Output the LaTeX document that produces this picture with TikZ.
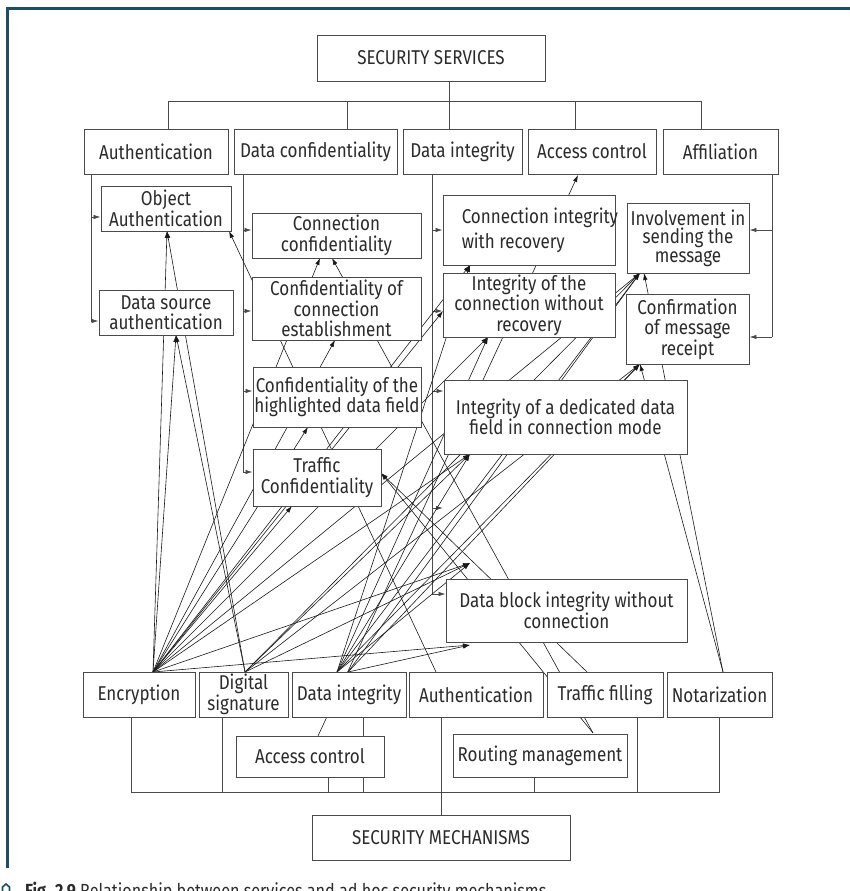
\documentclass[tikz,border=0pt]{standalone}
\usepackage{fontspec}
\setmainfont{Fira Sans}[FakeStretch=0.85]
\usetikzlibrary{arrows.meta}
\pgfdeclarelayer{background}
\pgfsetlayers{background,main}
\definecolor{framecol}{HTML}{1E4D6B}
\definecolor{inkcol}{HTML}{2B2B2B}
\definecolor{boxcol}{HTML}{4A4A4A}
\tikzset{
  box/.style={draw=boxcol, line width=0.9pt, fill=white, text=inkcol, inner sep=0pt,
    align=center, font=\fontsize{20}{20.5}\selectfont},
  txt/.style={text=inkcol, inner sep=0pt, font=\fontsize{20}{20.5}\selectfont},
  link/.style={line width=0.6pt, draw=black!90},
  arr/.style={link, -{Latex[length=7pt,width=4.5pt]}},
  bus/.style={line width=0.8pt, draw=boxcol},
  busarr/.style={bus, -{Latex[length=7pt,width=4.5pt]}},
}
\begin{document}
\begin{tikzpicture}[x=1pt,y=-1pt]
\useasboundingbox (0,0) rectangle (850,891);

% outer frame
\draw[framecol, line width=3pt] (850,9) -- (7,9) -- (7,868);

% ---------- services ----------
\node[box, minimum width=228pt, minimum height=46pt] (ss) at (431,58) {SECURITY SERVICES};

\node[box, minimum width=144pt, minimum height=45pt] (sa)  at (156,151.5) {Authentication};
\node[box, minimum width=163pt, minimum height=45pt] (sdc) at (315.5,151.5) {Data confidentiality};
\node[box, minimum width=119pt, minimum height=45pt] (sdi) at (462.5,151.5) {Data integrity};
\node[box, minimum width=128pt, minimum height=45pt] (sac) at (592,151.5) {Access control};
\node[box, minimum width=115pt, minimum height=45pt] (saf) at (720.5,151.5) {Affiliation};

\node[box, minimum width=130pt, minimum height=45pt] (oa)  at (166,208.5) {Object\\Authentication};
\node[box, minimum width=134pt, minimum height=45pt] (dsa) at (166,312.5) {Data source\\authentication};

\node[box, minimum width=169pt, minimum height=45pt] (cc)  at (336.5,235.5) {Connection\\confidentiality};
\node[box, minimum width=169pt, minimum height=63pt] (cce) at (336.5,308.5) {Confidentiality of\\connection\\establishment};
\node[box, minimum width=168pt, minimum height=60pt] (chf) at (337,397) {Confidentiality of the\\highlighted data field};
\node[box, minimum width=128pt, minimum height=57pt] (tc)  at (317,477.5) {Traffic\\Confidentiality};

\node[box, minimum width=172pt, minimum height=70pt] (ciwr) at (529,230) {};
\node[txt, anchor=west, align=left, font=\fontsize{20}{25}\selectfont] (ciwrT) at ([xshift=19pt]ciwr.west) {Connection integrity\\with recovery};
\node[box, minimum width=172pt, minimum height=64pt] (iwor) at (529,305) {Integrity of the\\connection without\\recovery};
\node[box, minimum width=243pt, minimum height=74pt] (idf)  at (565.5,417) {Integrity of a dedicated data\\field in connection mode};
\node[box, minimum width=241pt, minimum height=63pt] (dbi)  at (566.5,610.5) {Data block integrity without\\connection};

\node[box, minimum width=122pt, minimum height=70pt, font=\fontsize{20}{18.5}\selectfont] (inv) at (688,238) {Involvement in\\sending the\\message};
\node[box, minimum width=123pt, minimum height=70pt] (conf) at (687.5,329) {Confirmation\\of message\\receipt};

% ---------- mechanisms ----------
\node[box, minimum width=112pt, minimum height=45pt] (enc)  at (139,694.5) {Encryption};
\node[box, minimum width=89pt,  minimum height=45pt, font=\fontsize{20}{19}\selectfont] (dsig) at (243.5,694.5) {Digital\\signature};
\node[box, minimum width=114pt, minimum height=45pt] (mdi)  at (349,694.5) {Data integrity};
\node[box, minimum width=134pt, minimum height=45pt] (mau)  at (476,694.5) {Authentication};
\node[box, minimum width=116pt, minimum height=45pt] (mtf)  at (605,694.5) {Traffic filling};
\node[box, minimum width=105pt, minimum height=45pt] (mno)  at (719.5,694.5) {Notarization};

\node[box, minimum width=148pt, minimum height=41pt] (mac) at (310,756.5) {Access control};
\node[box, minimum width=174pt, minimum height=43pt] (mrm) at (540,755.5) {Routing management};

\node[box, minimum width=258pt, minimum height=45pt] (sm) at (441,837.5) {SECURITY MECHANISMS};

% caption
\draw[framecol, line width=1.6pt] (2.5,897) -- (2.5,887) -- (6,884) -- (9.5,887) -- (9.5,897);
\node[txt, anchor=base west, font=\fontsize{19}{22}\selectfont] (cap) at (25,897)
  {\textbf{Fig. 2.9} Relationship between services and ad hoc security mechanisms};

% ---------- connectors ----------
\begin{pgfonlayer}{background}
  % upper tree
  \coordinate (j1) at (168,101);
  \coordinate (j2) at (347,101);
  \coordinate (j3) at (449,101);
  \coordinate (j4) at (575,101);
  \coordinate (j5) at (701,101);
  \draw[bus] (j3 |- ss.south) -- (j3 |- sdi.north);
  \draw[bus] (j1 |- sa.north) -- (j1) -- (j5) -- (j5 |- saf.north);
  \draw[bus] (j2) -- (j2 |- sdc.north);
  \draw[bus] (j4) -- (j4 |- sac.north);

  % authentication branch
  \coordinate (vA1) at (91,217);
  \coordinate (vA2) at (91,321);
  \draw[bus] (vA1 |- sa.south) -- (vA2);
  \draw[busarr] (vA1) -- (vA1 -| oa.west);
  \draw[busarr] (vA2) -- (vA2 -| dsa.west);

  % confidentiality branch
  \coordinate (vC1) at (243,230);
  \coordinate (vC2) at (243,311);
  \coordinate (vC3) at (243,391);
  \coordinate (vC4) at (243,472);
  \draw[bus] (vC1 |- sdc.south) -- (vC4);
  \draw[busarr] (vC1) -- (vC1 -| cc.west);
  \draw[busarr] (vC2) -- (vC2 -| cce.west);
  \draw[busarr] (vC3) -- (vC3 -| chf.west);
  \draw[busarr] (vC4) -- (vC4 -| tc.west);

  % integrity branch
  \coordinate (vI1) at (432,230);
  \coordinate (vI2) at (432,311);
  \coordinate (vI3) at (432,391);
  \coordinate (vI4) at (432,508);
  \coordinate (vI5) at (432,594);
  \draw[bus] (vI1 |- sdi.south) -- (vI5);
  \draw[busarr] (vI1) -- (vI1 -| ciwr.west);
  \draw[busarr] (vI2) -- (vI2 -| iwor.west);
  \draw[busarr] (vI3) -- (vI3 -| idf.west);
  \draw[busarr] (vI4) -- ++(11,0);
  \draw[busarr] (vI5) -- (vI5 -| dbi.west);

  % affiliation branch
  \coordinate (vF1) at (772,230);
  \coordinate (vF2) at (772,337);
  \draw[bus] (vF1 |- saf.south) -- (vF2);
  \draw[busarr] (vF1) -- (vF1 -| inv.east);
  \draw[busarr] (vF2) -- (vF2 -| conf.east);

  % lower tree
  \coordinate (b1) at (131,792);
  \coordinate (b2) at (222,792);
  \coordinate (b3) at (328,792);
  \coordinate (b4) at (363,792);
  \coordinate (b5) at (441,792);
  \coordinate (b6) at (534,792);
  \coordinate (b7) at (637,792);
  \coordinate (b8) at (719,792);
  \draw[bus] (b1 |- enc.south) -- (b1) -- (b8) -- (b8 |- mno.south);
  \draw[bus] (b2 |- dsig.south) -- (b2);
  \draw[bus] (b3 |- mac.south) -- (b3);
  \draw[bus] (b4 |- mdi.south) -- (b4);
  \draw[bus] (b5 |- mau.south) -- (b5 |- sm.north);
  \draw[bus] (b6 |- mrm.south) -- (b6);
  \draw[bus] (b7 |- mtf.south) -- (b7);

  % mechanism fan points
  \coordinate (fE)  at (153,672);
  \coordinate (fD)  at (245,672);
  \coordinate (fI)  at (337,672);
  \coordinate (fI2) at (348,672);
  \coordinate (fA)  at (436,672);
  \coordinate (fT)  at (587,672);
  \coordinate (fN)  at (723,672);
  \coordinate (fC)  at (318,736);
  \coordinate (fR)  at (593,733);

  % service entry points
  \coordinate (tOA1) at (167,231);
  \coordinate (tOA2) at (229,231);
  \coordinate (tDS)  at (176,335);
  \coordinate (tCC1) at (320,258);
  \coordinate (tCC2) at (332,258);
  \coordinate (tCE)  at (335,340);
  \coordinate (tCH)  at (308,427);
  \coordinate (tTB)  at (292,506);
  \coordinate (tTR)  at (381,473);
  \coordinate (tCI)  at (470,265);
  \coordinate (tIW)  at (488,337);
  \coordinate (tIL)  at (443,311);
  \coordinate (tID)  at (470,454);
  \coordinate (tDB1) at (470,563);
  \coordinate (tDB2) at (470,645);
  \coordinate (tIN)  at (640,273);
  \coordinate (tIN2) at (644,273);
  \coordinate (tCF)  at (640,364);
  \coordinate (tAC)  at (578,175);

  % encryption
  \foreach \t in {tOA1,tDS,tCC1,tCE,tCH,tTB,tCI,tIW,tIL,tID,tDB1,tDB2,tIN}
    \draw[arr] (fE) -- (\t);
  % digital signature
  \foreach \t in {tOA1,tDS,tDB1,tIN,tCF,tID}
    \draw[arr] (fD) -- (\t);
  % data integrity
  \foreach \t in {tCI,tIW,tID,tDB1,tIN,tCF}
    \draw[arr] (fI) -- (\t);
  \foreach \t in {tDB2,tIN,tCF}
    \draw[arr] (fI2) -- (\t);
  % single-purpose mechanisms
  \draw[arr] (fA) -- (tOA2);
  \draw[arr] (fC) -- (tAC);
  \draw[arr] (fT) -- (tTR);
  \draw[arr] (fR) -- (tCC2);
  \draw[arr] (fR) -- (tTR);
  \draw[arr] (fN) -- (tIN2);
  \draw[arr] (fN) -- (tCF);
\end{pgfonlayer}
\end{tikzpicture}
\end{document}
